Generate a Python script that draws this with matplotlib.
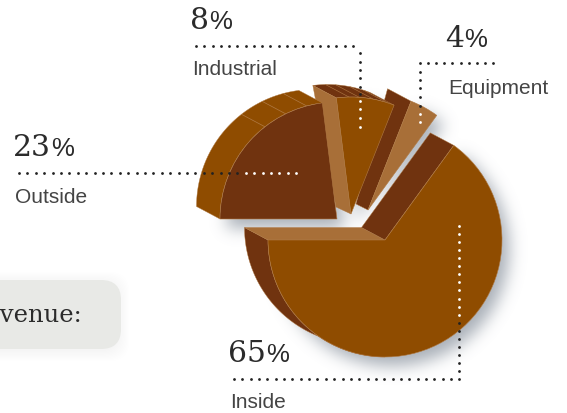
import numpy as np
import matplotlib
matplotlib.use("Agg")
import matplotlib.pyplot as plt
from matplotlib.patches import FancyBboxPatch, Polygon, Wedge

W, H = 567, 413

labels = ["Inside", "Equipment", "Industrial", "Outside"]
shares = [65, 4, 8, 23]

ORANGE = "#8f4c00"
DARK = "#70330f"
LIGHT = "#a86f38"
EDGE = "#b07a45"
INK = "#2b2b2b"

# degrees per slice, going counter clockwise from the left side
angles = 360 * np.cumsum([0] + shares) / sum(shares) + 180
R = 117


def up(y):
    return H - y


def on_circle(c, r, deg):
    return np.array([c[0] + r * np.cos(np.radians(deg)), c[1] + r * np.sin(np.radians(deg))])


def arc(c, r, t0, t1):
    t = np.radians(np.linspace(t0, t1, 60))
    return np.column_stack([c[0] + r * np.cos(t), c[1] + r * np.sin(t)])


def band(ax, c, off, t0, t1, color, z):
    c2 = (c[0] + off[0], c[1] + off[1])
    pts = np.vstack([arc(c, R, t0, t1), arc(c2, R, t1, t0)])
    ax.add_patch(Polygon(pts, fc=color, ec=EDGE, lw=0.3, zorder=z))


def wall(ax, c, deg, off_out, off_in, color, z):
    p = on_circle(c, R, deg)
    pts = [c, p, p + np.array(off_out), np.array(c) + np.array(off_in)]
    ax.add_patch(Polygon(pts, fc=color, ec=EDGE, lw=0.3, zorder=z))


def top(ax, c, t0, t1, color, z):
    ax.add_patch(Wedge(c, R, t0, t1, fc=color, ec=EDGE, lw=0.4, zorder=z))


def blur(img, sigma):
    x = np.arange(-3 * sigma, 3 * sigma + 1)
    k = np.exp(-x ** 2 / (2.0 * sigma ** 2))
    k /= k.sum()
    img = np.apply_along_axis(lambda r: np.convolve(r, k, mode="same"), 0, img)
    return np.apply_along_axis(lambda r: np.convolve(r, k, mode="same"), 1, img)


def draw_shadow(ax, slices, shift, sigma, strength):
    # gaussian drop shadow under the slices
    yy, xx = np.mgrid[0:H, 0:W] + 0.5
    mask = np.zeros((H, W))
    for c, t0, t1 in slices:
        dx, dy = xx - c[0] - shift[0], yy - c[1] - shift[1]
        a = (np.degrees(np.arctan2(dy, dx)) - t0) % 360
        mask[(np.hypot(dx, dy) <= R) & (a <= t1 - t0)] = 1
    rgba = np.zeros((H, W, 4))
    rgba[..., :3] = matplotlib.colors.to_rgb("#6f7a88")
    rgba[..., 3] = blur(mask, sigma) * strength
    ax.imshow(rgba, extent=(0, W, 0, H), origin="lower", zorder=1, aspect="auto", interpolation="bilinear")


def dots(ax, xs, ys, split=None):
    xs, ys = np.broadcast_arrays(np.asarray(xs, float), np.asarray(ys, float))
    white = split(xs, ys) if split else np.zeros(xs.shape, bool)
    ax.scatter(xs[~white], ys[~white], s=4, c="#222222", lw=0, zorder=20)
    ax.scatter(xs[white], ys[white], s=4, c="white", lw=0, zorder=20)


def pct(ax, x, y, value, size=21.5, small=18.5):
    t = ax.text(x, y, str(value), family="DejaVu Serif", fontsize=size, color=INK,
                va="baseline", ha="left")
    ax.figure.canvas.draw()
    bb = t.get_window_extent()
    ax.text(bb.x1 + 0.5, y, "%", family="Liberation Sans", fontsize=small, color=INK, va="baseline", ha="left")


fig = plt.figure(figsize=(5.67, 4.13), dpi=100)
ax = fig.add_axes([0, 0, 1, 1])

# slice apexes and how far each one is extruded
big_c = (385, up(240))
eq_c = (368, up(210))
ind_c = (351, up(214))
out_c = (337, up(219))
off = (-23.5, 12.5)

inside_a, equip_a, indus_a, outs_a, end_a = angles

draw_shadow(ax, [(big_c, inside_a, equip_a), (eq_c, equip_a, indus_a),
                 (ind_c, indus_a, outs_a), (out_c, outs_a, end_a)], (7, -9), 8, 0.6)
ax.set_xlim(0, W)
ax.set_ylim(0, H)
ax.axis("off")

# Inside
band(ax, big_c, off, inside_a, inside_a + 90, DARK, 3)
wall(ax, big_c, inside_a, off, off, LIGHT, 3)
wall(ax, big_c, equip_a, off, off, DARK, 3)
top(ax, big_c, inside_a, equip_a, ORANGE, 4)

# Equipment
wall(ax, eq_c, indus_a, off, (-12, 6), DARK, 5)
top(ax, eq_c, equip_a, indus_a, LIGHT, 6)

# Industrial
band(ax, ind_c, off, indus_a, outs_a, DARK, 7)
wall(ax, ind_c, outs_a, off, (-15, 7), LIGHT, 8)
top(ax, ind_c, indus_a, outs_a, ORANGE, 9)
for d in [72, 79, 86, 91]:
    p = on_circle(ind_c, R, d)
    ax.plot([p[0], p[0] + off[0]], [p[1], p[1] + off[1]], color=EDGE, lw=0.4, zorder=7.5)

# Outside
band(ax, out_c, off, outs_a, end_a, ORANGE, 10)
top(ax, out_c, outs_a, end_a, DARK, 11)
for d in [105, 116, 128]:
    p = on_circle(out_c, R, d)
    ax.plot([p[0], p[0] + off[0]], [p[1], p[1] + off[1]], color=EDGE, lw=0.5, zorder=10.5)

# leader lines
dots(ax, np.arange(196, 361, 8.25), up(46))
dots(ax, 360, up(np.array([53, 62, 70, 78, 87, 94, 101, 109, 118, 127])), lambda x, y: y < up(97))
dots(ax, np.arange(420, 494, 8.1), up(63))
dots(ax, 420, up(np.array([72, 80, 88, 97, 106, 114, 122])), lambda x, y: y < up(109))
dots(ax, np.arange(19, 297, 8.4), up(173), lambda x, y: x > 238)
dots(ax, np.arange(234, 460, 8.35), up(379))
dots(ax, 459, up(np.linspace(226, 371, 19)), lambda x, y: y > up(315))

# value and name labels
names_at = [(230, 408), (448.5, 94), (192, 75), (15, 203)]
pcts_at = [(228, 362), (445, 47), (190, 29), (13, 156)]
for name, share, (nx, ny), (px, py) in zip(labels, shares, names_at, pcts_at):
    ax.text(nx, up(ny), name, family="Liberation Sans", fontsize=15, color="#444444", va="baseline")
    pct(ax, px, up(py), share)

# caption box running off the left edge
for s in np.linspace(10, 0, 10):
    ax.add_patch(FancyBboxPatch((-57, up(349) - 2), 176, 69, boxstyle="round,pad=%.1f,rounding_size=20" % s,
                                fc="#8a92a0", ec="none", alpha=0.008, zorder=1))
ax.add_patch(FancyBboxPatch((-60, up(349)), 181, 69, boxstyle="round,pad=0,rounding_size=20",
                            fc="#e8e9e6", ec="none", zorder=2))
ax.text(82, up(322), "Revenue:", family="DejaVu Serif", fontsize=17.5, color=INK, ha="right", va="baseline", zorder=3)

fig.savefig("out.png", dpi=100)
